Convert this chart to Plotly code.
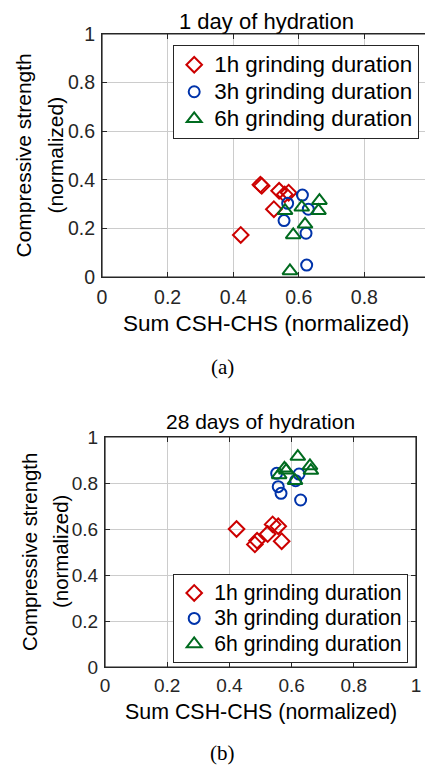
import plotly.graph_objects as go

# ---------------- data ----------------
series_names = ["1h grinding duration", "3h grinding duration", "6h grinding duration"]

# Panel (a): 1 day of hydration
a_1h_x = [0.423, 0.483, 0.487, 0.524, 0.540, 0.557, 0.569]
a_1h_y = [0.173, 0.380, 0.375, 0.279, 0.355, 0.340, 0.347]
a_3h_x = [0.555, 0.566, 0.611, 0.622, 0.624, 0.629]
a_3h_y = [0.232, 0.303, 0.337, 0.180, 0.049, 0.279]
a_6h_x = [0.558, 0.573, 0.583, 0.609, 0.619, 0.660, 0.663]
a_6h_y = [0.273, 0.025, 0.173, 0.287, 0.217, 0.273, 0.314]

# Panel (b): 28 days of hydration
b_1h_x = [0.423, 0.482, 0.489, 0.523, 0.539, 0.557, 0.568]
b_1h_y = [0.600, 0.533, 0.549, 0.578, 0.620, 0.612, 0.547]
b_3h_x = [0.552, 0.557, 0.566, 0.613, 0.624, 0.629]
b_3h_y = [0.842, 0.784, 0.755, 0.810, 0.839, 0.726]
b_6h_x = [0.560, 0.577, 0.583, 0.611, 0.620, 0.659, 0.662]
b_6h_y = [0.835, 0.864, 0.855, 0.810, 0.915, 0.874, 0.854]

tick_vals = [0, 0.2, 0.4, 0.6, 0.8, 1]
tick_text = ["0", "0.2", "0.4", "0.6", "0.8", "1"]

titles = ["1 day of hydration", "28 days of hydration"]
x_title = "Sum CSH-CHS (normalized)"
y_title_1 = "Compressive strength"
y_title_2 = "(normalized)"
captions = ["(a)", "(b)"]

# ---------------- styling ----------------
OFF = 8  # body margin of the html page
W, H = 433 - OFF, 767 - OFF
FONT = "Liberation Sans, Arial, sans-serif"
SERIF = "Liberation Serif, Times New Roman, serif"
INK = "#262626"
GRID = "#cccccc"
LW = 1.2
colors = ["#cc0000", "#0033aa", "#006b1f"]
symbols = ["diamond-open", "circle-open", "triangle-up-open"]
sizes = [12, 11, 13]

def px_x(p):
    return (p - OFF) / W

def px_y(p):
    return 1 - (p - OFF) / H

panels = [
    dict(data=[(a_1h_x, a_1h_y), (a_3h_x, a_3h_y), (a_6h_x, a_6h_y)],
         xa="x", ya="y", legend="legend",
         box=(102, 430, 34, 277), title_y=21.5, title_fs=22, xt_dy=46, xt_fs=22.5,
         yt_fs=21, yt_off=(23, 55), tick_fs=19.5, cap_dy=90, std=2,
         leg_fs=18.5, leg_span=22.4, leg_pos=(173, 45)),
    dict(data=[(b_1h_x, b_1h_y), (b_3h_x, b_3h_y), (b_6h_x, b_6h_y)],
         xa="x2", ya="y2", legend="legend2",
         box=(105, 416, 437, 667), title_y=422, title_fs=21, xt_dy=45, xt_fs=21.4,
         yt_fs=20.4, yt_off=(30, 61), tick_fs=19, cap_dy=86, std=1,
         leg_fs=17.3, leg_span=21.2, leg_pos=(173, 574)),
]

fig = go.Figure()

for pi, p in enumerate(panels):
    for si, (xs, ys) in enumerate(p["data"]):
        fig.add_trace(go.Scatter(
            x=xs, y=ys, mode="markers",
            name='<span style="font-size:%.1fpx">%s</span>' % (p["leg_span"], series_names[si]),
            xaxis=p["xa"], yaxis=p["ya"], legend=p["legend"],
            marker=dict(symbol=symbols[si], size=sizes[si], color=colors[si],
                        line=dict(width=2, color=colors[si])),
            showlegend=True, cliponaxis=False,
        ))

axis_common = dict(
    range=[0, 1], tickvals=tick_vals, ticktext=tick_text,
    zeroline=False, showline=True, linecolor=INK, linewidth=LW, mirror="ticks",
    ticks="inside", ticklen=5, tickwidth=1, tickcolor=INK,
    showgrid=True, gridcolor=GRID, gridwidth=1,
    fixedrange=True, automargin=False,
)

layout = dict(
    width=W, height=H, margin=dict(l=0, r=0, t=0, b=0, pad=0, autoexpand=False),
    paper_bgcolor="white", plot_bgcolor="white",
    font=dict(family=FONT, color="black"),
)

annotations = []
shapes = []
for pi, p in enumerate(panels):
    l, r, t, b = p["box"]
    n = "" if pi == 0 else "2"
    tf = dict(family=FONT, size=p["tick_fs"], color=INK)
    layout["xaxis" + n] = dict(axis_common, domain=[px_x(l), px_x(r)], anchor=p["ya"],
                               tickfont=tf, ticklabelstandoff=p["std"])
    layout["yaxis" + n] = dict(axis_common, domain=[px_y(b), px_y(t)], anchor=p["xa"],
                               tickfont=tf, ticklabelstandoff=2)
    # frame
    shapes.append(dict(type="rect", xref=p["xa"] + " domain", yref=p["ya"] + " domain",
                       x0=0, x1=1, y0=0, y1=1, line=dict(color=INK, width=LW),
                       fillcolor="rgba(0,0,0,0)", layer="above"))
    cx = (l + r) / 2
    annotations.append(dict(text=titles[pi], x=px_x(cx), y=px_y(p["title_y"]),
                            xref="paper", yref="paper", showarrow=False,
                            xanchor="center", yanchor="middle",
                            font=dict(family=FONT, size=p["title_fs"], color="black")))
    annotations.append(dict(text=x_title, x=px_x(cx), y=px_y(b + p["xt_dy"]),
                            xref="paper", yref="paper", showarrow=False,
                            xanchor="center", yanchor="middle",
                            font=dict(family=FONT, size=p["xt_fs"], color="black")))
    cy = (t + b) / 2
    off1, off2 = p["yt_off"]
    for txt, xo in ((y_title_1, off1), (y_title_2, off2)):
        annotations.append(dict(text=txt, x=px_x(xo), y=px_y(cy),
                                xref="paper", yref="paper", showarrow=False,
                                textangle=-90, xanchor="center", yanchor="middle",
                                font=dict(family=FONT, size=p["yt_fs"], color="black")))
    annotations.append(dict(text=captions[pi], x=px_x(222), y=px_y(b + p["cap_dy"]),
                            xref="paper", yref="paper", showarrow=False,
                            xanchor="center", yanchor="middle",
                            font=dict(family=SERIF, size=21, color="black")))
    lx, ly = p["leg_pos"]
    layout[p["legend"]] = dict(
        bgcolor="white", bordercolor=INK, borderwidth=LW,
        font=dict(family=FONT, size=p["leg_fs"], color="black"),
        xanchor="left", yanchor="top", xref="paper", yref="paper",
        x=px_x(lx), y=px_y(ly),
        tracegroupgap=0, itemclick=False, itemdoubleclick=False,
    )

layout["annotations"] = annotations
layout["shapes"] = shapes

fig.update_layout(**layout)
fig.write_html("out.html")
